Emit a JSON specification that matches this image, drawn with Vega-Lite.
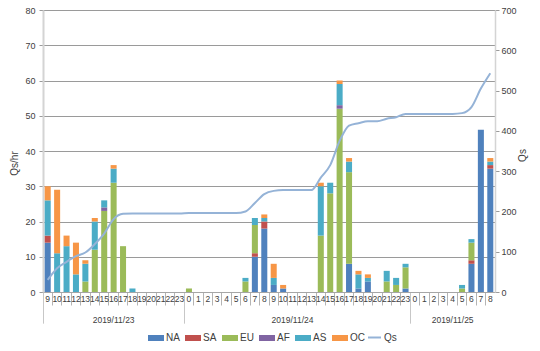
{
  "$schema": "https://vega.github.io/schema/vega-lite/v6.json",
  "autosize": {"type": "none"},
  "padding": {"left": 43, "top": 10, "right": 45, "bottom": 59},
  "width": 452,
  "height": 282,
  "background": "white",
  "config": {
    "view": {"stroke": null},
    "font": "Liberation Sans",
    "axis": {"labelFont": "Liberation Sans", "titleFont": "Liberation Sans", "labelColor": "#404040", "titleColor": "#404040", "titleFontWeight": "normal"},
    "legend": {"labelFont": "Liberation Sans", "labelColor": "#404040"}
  },
  "datasets": {
    "bars": [
      {"k": "a|09", "r": "NA", "v": 14}, {"k": "a|09", "r": "SA", "v": 2}, {"k": "a|09", "r": "AS", "v": 10}, {"k": "a|09", "r": "OC", "v": 4},
      {"k": "a|10", "r": "AS", "v": 11}, {"k": "a|10", "r": "OC", "v": 18},
      {"k": "a|11", "r": "AS", "v": 13}, {"k": "a|11", "r": "OC", "v": 3},
      {"k": "a|12", "r": "AS", "v": 5}, {"k": "a|12", "r": "OC", "v": 9},
      {"k": "a|13", "r": "EU", "v": 3}, {"k": "a|13", "r": "AS", "v": 5}, {"k": "a|13", "r": "OC", "v": 1},
      {"k": "a|14", "r": "EU", "v": 12}, {"k": "a|14", "r": "AS", "v": 8}, {"k": "a|14", "r": "OC", "v": 1},
      {"k": "a|15", "r": "EU", "v": 23}, {"k": "a|15", "r": "AF", "v": 1}, {"k": "a|15", "r": "AS", "v": 2},
      {"k": "a|16", "r": "EU", "v": 31}, {"k": "a|16", "r": "AS", "v": 4}, {"k": "a|16", "r": "OC", "v": 1},
      {"k": "a|17", "r": "EU", "v": 13},
      {"k": "a|18", "r": "AS", "v": 1},
      {"k": "b|00", "r": "EU", "v": 1},
      {"k": "b|06", "r": "EU", "v": 3}, {"k": "b|06", "r": "AS", "v": 1},
      {"k": "b|07", "r": "NA", "v": 10}, {"k": "b|07", "r": "SA", "v": 1}, {"k": "b|07", "r": "EU", "v": 8}, {"k": "b|07", "r": "AS", "v": 2},
      {"k": "b|08", "r": "NA", "v": 18}, {"k": "b|08", "r": "SA", "v": 2}, {"k": "b|08", "r": "AS", "v": 1}, {"k": "b|08", "r": "OC", "v": 1},
      {"k": "b|09", "r": "NA", "v": 2}, {"k": "b|09", "r": "AS", "v": 2}, {"k": "b|09", "r": "OC", "v": 4},
      {"k": "b|10", "r": "NA", "v": 1}, {"k": "b|10", "r": "OC", "v": 1},
      {"k": "b|14", "r": "EU", "v": 16}, {"k": "b|14", "r": "AS", "v": 14}, {"k": "b|14", "r": "OC", "v": 1},
      {"k": "b|15", "r": "EU", "v": 28}, {"k": "b|15", "r": "AS", "v": 3},
      {"k": "b|16", "r": "EU", "v": 52}, {"k": "b|16", "r": "AF", "v": 1}, {"k": "b|16", "r": "AS", "v": 6}, {"k": "b|16", "r": "OC", "v": 1},
      {"k": "b|17", "r": "NA", "v": 8}, {"k": "b|17", "r": "EU", "v": 26}, {"k": "b|17", "r": "AS", "v": 3}, {"k": "b|17", "r": "OC", "v": 1},
      {"k": "b|18", "r": "NA", "v": 1}, {"k": "b|18", "r": "AS", "v": 4}, {"k": "b|18", "r": "OC", "v": 1},
      {"k": "b|19", "r": "NA", "v": 3}, {"k": "b|19", "r": "AS", "v": 1}, {"k": "b|19", "r": "OC", "v": 1},
      {"k": "b|21", "r": "EU", "v": 3}, {"k": "b|21", "r": "AS", "v": 3},
      {"k": "b|22", "r": "EU", "v": 2}, {"k": "b|22", "r": "AS", "v": 2},
      {"k": "b|23", "r": "NA", "v": 1}, {"k": "b|23", "r": "EU", "v": 6}, {"k": "b|23", "r": "AS", "v": 1},
      {"k": "c|05", "r": "EU", "v": 1}, {"k": "c|05", "r": "AS", "v": 1},
      {"k": "c|06", "r": "NA", "v": 8}, {"k": "c|06", "r": "SA", "v": 1}, {"k": "c|06", "r": "EU", "v": 5}, {"k": "c|06", "r": "AS", "v": 1},
      {"k": "c|07", "r": "NA", "v": 46},
      {"k": "c|08", "r": "NA", "v": 35}, {"k": "c|08", "r": "SA", "v": 1}, {"k": "c|08", "r": "AS", "v": 1}, {"k": "c|08", "r": "OC", "v": 1}
    ],
    "qs": [
      {"k": "a|09", "q": 30}, {"k": "a|10", "q": 59}, {"k": "a|11", "q": 75}, {"k": "a|12", "q": 89}, {"k": "a|13", "q": 98},
      {"k": "a|14", "q": 119}, {"k": "a|15", "q": 145}, {"k": "a|16", "q": 181}, {"k": "a|17", "q": 194}, {"k": "a|18", "q": 195},
      {"k": "a|19", "q": 195}, {"k": "a|20", "q": 195}, {"k": "a|21", "q": 195}, {"k": "a|22", "q": 195}, {"k": "a|23", "q": 195},
      {"k": "b|00", "q": 196}, {"k": "b|01", "q": 196}, {"k": "b|02", "q": 196}, {"k": "b|03", "q": 196}, {"k": "b|04", "q": 196},
      {"k": "b|05", "q": 196}, {"k": "b|06", "q": 200}, {"k": "b|07", "q": 221}, {"k": "b|08", "q": 243}, {"k": "b|09", "q": 251},
      {"k": "b|10", "q": 253}, {"k": "b|11", "q": 253}, {"k": "b|12", "q": 253}, {"k": "b|13", "q": 253}, {"k": "b|14", "q": 284},
      {"k": "b|15", "q": 315}, {"k": "b|16", "q": 375}, {"k": "b|17", "q": 413}, {"k": "b|18", "q": 419}, {"k": "b|19", "q": 424},
      {"k": "b|20", "q": 424}, {"k": "b|21", "q": 430}, {"k": "b|22", "q": 434}, {"k": "b|23", "q": 442},
      {"k": "c|00", "q": 442}, {"k": "c|01", "q": 442}, {"k": "c|02", "q": 442}, {"k": "c|03", "q": 442}, {"k": "c|04", "q": 442},
      {"k": "c|05", "q": 444}, {"k": "c|06", "q": 459}, {"k": "c|07", "q": 505}, {"k": "c|08", "q": 543}
    ]
  },
  "layer": [
    {
      "data": {"name": "bars"},
      "transform": [{"calculate": "indexof(['NA','SA','EU','AF','AS','OC'], datum.r)", "as": "o"}],
      "mark": {"type": "bar", "width": {"band": 0.64}},
      "encoding": {
        "x": {
          "field": "k", "type": "ordinal",
          "scale": {"paddingInner": 0, "paddingOuter": 0},
          "axis": {
            "title": null,
            "bandPosition": 0,
            "tickSize": 31,
            "tickDash": {"condition": {"test": "datum.value === 'a|09' || datum.value === 'b|00' || datum.value === 'c|00'", "value": [1, 0]}, "value": [13, 40]},
            "labelPadding": -29,
            "labelOffset": 0,
            "tickColor": "#b4b4b4",
            "domainColor": "#a6a6a6",
            "labelExpr": "datum.value === 'a|16' ? ['16', '2019/11/23'] : datum.value === 'b|11' ? ['11', '\u00a0\u00a0\u00a0\u00a02019/11/24'] : datum.value === 'c|04' ? ['4', '2019/11/25'] : '' + toNumber(slice(datum.value, 2))",
            "labelFontSize": 8.5,
            "labelLineHeight": 21,
            "labelBaseline": "top",
            "labelAngle": 0,
            "labelOverlap": false,
            "labelBound": false
          }
        },
        "y": {
          "field": "v", "type": "quantitative", "stack": "zero",
          "scale": {"domain": [0, 80], "nice": false},
          "axis": {
            "orient": "left",
            "title": "Qs/hr",
            "values": [0, 10, 20, 30, 40, 50, 60, 70, 80],
            "grid": true, "gridColor": "#9a9a9a",
            "tickSize": 4, "tickColor": "#9a9a9a",
            "domainColor": "#d4d4d4", "domainWidth": 2,
            "labelFontSize": 9, "labelPadding": 4,
            "titleFontSize": 10,
            "titleX": -29, "titleY": 153, "titleAngle": 270, "titleAlign": "center", "titleBaseline": "middle"
          }
        },
        "color": {
          "field": "r", "type": "nominal",
          "scale": {"domain": ["NA", "SA", "EU", "AF", "AS", "OC"], "range": ["#4F81BD", "#C0504D", "#9BBB59", "#8064A2", "#4BACC6", "#F79646"]},
          "legend": {
            "orient": "none", "direction": "horizontal", "title": null,
            "legendX": 105, "legendY": 320,
            "symbolType": "M-1,-0.375H1V0.375H-1Z",
            "symbolSize": 256, "symbolStrokeWidth": 0,
            "labelFontSize": 10, "labelOffset": 2, "columnPadding": 5
          }
        },
        "order": {"field": "o", "type": "quantitative"}
      }
    },
    {
      "data": {"name": "qs"},
      "mark": {"type": "line", "strokeWidth": 2, "interpolate": "monotone"},
      "encoding": {
        "x": {"field": "k", "type": "ordinal"},
        "y": {
          "field": "q", "type": "quantitative",
          "scale": {"domain": [0, 700], "nice": false},
          "axis": {
            "orient": "right",
            "title": "Qs",
            "values": [0, 100, 200, 300, 400, 500, 600, 700],
            "grid": false,
            "tickSize": 4, "tickColor": "#9a9a9a",
            "domainColor": "#d4d4d4", "domainWidth": 1.5,
            "labelFontSize": 9, "labelPadding": 2,
            "titleFontSize": 10,
            "titleX": 27, "titleY": 145, "titleAngle": 270, "titleAlign": "center", "titleBaseline": "middle"
          }
        },
        "stroke": {
          "datum": "Qs", "type": "nominal",
          "scale": {"domain": ["Qs"], "range": ["#95B3D7"]},
          "legend": {
            "orient": "none", "direction": "horizontal", "title": null,
            "legendX": 324, "legendY": 320,
            "symbolType": "stroke", "symbolSize": 169, "symbolStrokeWidth": 2,
            "labelFontSize": 10, "labelOffset": 2
          }
        }
      }
    }
  ],
  "resolve": {"scale": {"y": "independent"}}
}
